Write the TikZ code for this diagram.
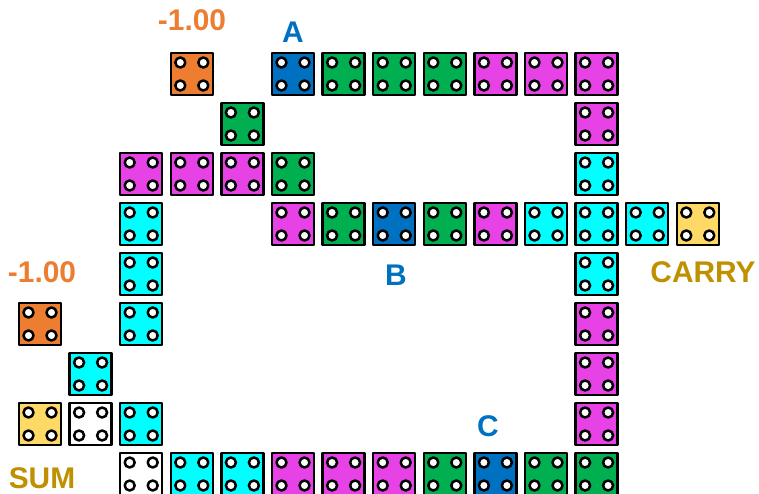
\documentclass[tikz,border=0pt]{standalone}
\usepackage{fontspec}
\setmainfont{Liberation Sans}
\definecolor{tileorange}{HTML}{ED7D31}
\definecolor{tileblue}{HTML}{0070C0}
\definecolor{tilegreen}{HTML}{00B050}
\definecolor{tilemagenta}{HTML}{E642E6}
\definecolor{tilecyan}{HTML}{00FFFF}
\definecolor{tileyellow}{HTML}{FFD966}
\definecolor{labelgold}{HTML}{BF9000}
\tikzset{
  tile/.style={draw=black, line width=2.4bp, minimum size=42bp, inner sep=0pt,
    path picture={
      \foreach \dx in {-1,1}
        \foreach \dy in {-1,1}
          \draw[fill=white, line width=2.5bp]
            ($(path picture bounding box.center)+(\dx*11.5bp,\dy*11.5bp)$) circle (5bp);
    }},
  tag/.style={font=\bfseries\fontsize{30}{32}\selectfont, inner sep=0pt}
}
\usetikzlibrary{calc}
\begin{document}
\begin{tikzpicture}[x=1bp,y=-1bp,line join=round]
  \useasboundingbox (0,0) rectangle (759,494);
  % tiles: column/row/colour
  \foreach \c/\r/\col in {
      3/0/tileorange, 5/0/tileblue, 6/0/tilegreen, 7/0/tilegreen, 8/0/tilegreen,
      9/0/tilemagenta, 10/0/tilemagenta, 11/0/tilemagenta,
      4/1/tilegreen, 11/1/tilemagenta,
      2/2/tilemagenta, 3/2/tilemagenta, 4/2/tilemagenta, 5/2/tilegreen, 11/2/tilecyan,
      2/3/tilecyan, 5/3/tilemagenta, 6/3/tilegreen, 7/3/tileblue, 8/3/tilegreen,
      9/3/tilemagenta, 10/3/tilecyan, 11/3/tilecyan, 12/3/tilecyan, 13/3/tileyellow,
      2/4/tilecyan, 11/4/tilecyan,
      0/5/tileorange, 2/5/tilecyan, 11/5/tilemagenta,
      1/6/tilecyan, 11/6/tilemagenta,
      0/7/tileyellow, 1/7/white, 2/7/tilecyan, 11/7/tilemagenta,
      2/8/white, 3/8/tilecyan, 4/8/tilecyan, 5/8/tilemagenta, 6/8/tilemagenta,
      7/8/tilemagenta, 8/8/tilegreen, 9/8/tileblue, 10/8/tilegreen, 11/8/tilegreen}
    \node[tile, fill=\col] (t\c-\r) at (40+50.6*\c, 74+50*\r) {};
  % labels
  \node[tag, text=tileorange] (biasA) at (192,20) {-1.00};
  \node[tag, text=tileblue] (labA) at (293,32) {A};
  \node[tag, text=tileorange] (biasS) at (42,272) {-1.00};
  \node[tag, text=tileblue] (labB) at (396,275) {B};
  \node[tag, text=labelgold] (carry) at (703,272) {CARRY};
  \node[tag, text=tileblue] (labC) at (488,426) {C};
  \node[tag, text=labelgold] (sum) at (42,478) {SUM};
\end{tikzpicture}
\end{document}
